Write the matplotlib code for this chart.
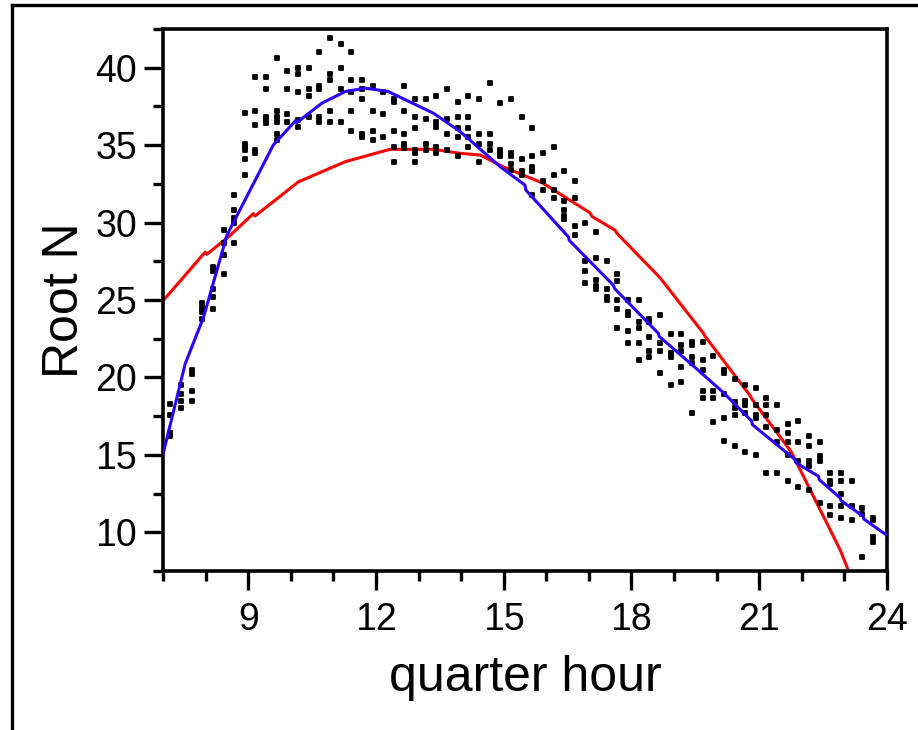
import matplotlib
matplotlib.use("Agg")
import matplotlib.pyplot as plt
from matplotlib.lines import Line2D
from matplotlib.ticker import MultipleLocator

plt.rcParams["font.family"] = ["Liberation Sans", "DejaVu Sans"]

# observed Root N per quarter-hour column
quarter_x = [6.92, 7.17, 7.42, 7.67, 7.92, 8.17, 8.42, 8.67, 8.92, 9.17,
             9.42, 9.67, 9.92, 10.17, 10.42, 10.67, 10.92, 11.17, 11.42, 11.67,
             11.92, 12.17, 12.42, 12.67, 12.92, 13.17, 13.42, 13.67, 13.92, 14.17,
             14.42, 14.67, 14.92, 15.17, 15.42, 15.67, 15.92, 16.17, 16.42, 16.67,
             16.92, 17.17, 17.42, 17.67, 17.92, 18.17, 18.42, 18.67, 18.92, 19.17,
             19.42, 19.67, 19.92, 20.17, 20.42, 20.67, 20.92, 21.17, 21.42, 21.67,
             21.92, 22.17, 22.42, 22.67, 22.92, 23.17, 23.42, 23.67]
root_n = [
    [18.5, 18.2, 17.9, 17.3], [18.3, 17.6, 16.4, 16.2], [19.5, 18.9, 18.5, 18.0],
    [20.5, 20.2, 19.1, 18.5], [24.8, 24.5, 24.2, 23.8], [27.1, 26.9, 25.7, 25.2, 24.4],
    [29.5, 28.7, 27.9, 26.7], [31.8, 30.8, 30.3, 30.0, 28.7], [37.1, 35.1, 34.9, 34.7, 34.1, 33.1],
    [39.4, 37.2, 36.3, 34.7, 34.5], [39.4, 38.6, 36.8, 36.6, 36.4], [40.6, 37.2, 36.8, 36.5, 35.7, 35.3],
    [39.8, 38.6, 37.0, 36.5], [40.0, 39.6, 38.4, 36.6, 36.2], [40.0, 38.6, 38.2, 36.8],
    [41.0, 38.8, 38.6, 36.8, 36.5], [41.9, 39.6, 39.2, 37.2, 36.5], [41.5, 40.0, 38.6, 36.5],
    [41.0, 39.2, 38.4, 37.2, 35.9], [39.2, 38.6, 38.0, 35.7, 35.5], [38.8, 37.2, 35.9, 35.3],
    [38.4, 37.0, 35.5], [38.0, 37.8, 35.9, 34.9, 33.9], [38.8, 37.2, 35.7, 35.1, 34.8],
    [38.0, 36.8, 36.1, 34.7, 34.5, 33.9], [38.0, 36.7, 35.1, 34.7], [38.2, 36.5, 36.2, 34.9, 34.5],
    [38.6, 36.7, 35.7, 34.7], [37.8, 36.8, 36.1, 35.5, 34.3], [38.2, 36.8, 36.1, 35.5, 34.9],
    [38.0, 35.7, 35.1, 33.9], [39.0, 35.7, 35.1, 34.7], [37.7, 34.7, 34.5, 34.3],
    [38.0, 34.5, 34.3, 33.8, 33.4], [36.8, 34.1, 33.3, 33.1], [36.1, 34.3, 33.6, 33.3, 31.8],
    [34.5, 32.7, 32.1], [34.9, 33.1, 32.1, 31.6], [33.3, 31.4, 30.8, 30.4, 30.2],
    [32.7, 31.6, 29.8, 29.2], [30.0, 27.5, 26.9, 26.1], [29.4, 27.7, 26.3, 25.9, 25.7],
    [27.5, 25.7, 25.2, 25.0], [26.7, 26.2, 25.0, 24.4, 23.2], [25.0, 24.2, 24.0, 23.0, 22.2],
    [25.0, 23.6, 23.2, 22.2, 21.1], [23.8, 23.6, 22.6, 21.7, 21.3], [24.0, 22.2, 21.7, 20.3],
    [22.8, 21.6, 21.4, 21.3, 19.5], [22.8, 22.1, 21.7, 20.7, 19.7], [22.3, 22.1, 21.3, 20.9, 17.7],
    [22.3, 21.1, 20.5, 19.1, 18.7], [21.4, 19.1, 18.7, 17.1], [20.5, 20.3, 18.9, 17.4, 15.9],
    [19.9, 18.4, 18.0, 17.6, 15.6], [19.5, 18.5, 18.2, 17.7, 15.2], [19.3, 18.2, 17.6, 17.4, 15.0],
    [18.7, 18.2, 17.6, 16.8, 13.8], [18.2, 16.6, 15.8, 13.8], [17.0, 16.4, 15.8, 15.0, 13.3],
    [17.2, 15.8, 14.6, 12.9], [16.2, 15.6, 14.6, 14.3, 12.7], [15.8, 14.9, 14.6, 11.9],
    [13.8, 13.3, 13.1, 11.7, 11.1], [13.8, 13.3, 12.5, 11.7, 10.9], [13.3, 11.7, 10.8],
    [11.6, 11.2, 8.4], [10.9, 10.8, 9.7, 9.4],
]

# fitted curves (piecewise, with small steps between pieces)
blue_x = [7.0, 7.52, 7.95, 8.5, 9.59, 10.12, 10.14, 10.73, 11.28, 11.75, 12.29,
          13.35, 13.98, 14.92, 15.50, 15.52, 16.52, 16.54, 17.58, 17.60, 18.63,
          18.65, 19.45, 20.16, 20.82, 20.84, 21.84, 21.86, 22.39, 22.41, 22.90,
          22.92, 23.44, 23.46, 24.0]
blue_y = [15.05, 20.88, 23.88, 29.18, 35.01, 36.60, 36.45, 37.71, 38.46, 38.68, 38.46,
          37.06, 35.87, 33.60, 32.42, 32.10, 29.07, 28.85, 25.94, 25.75, 22.85,
          22.65, 20.75, 19.02, 17.19, 16.95, 14.70, 14.50, 13.62, 13.40, 12.22,
          12.05, 11.03, 10.85, 9.80]
red_x = [7.0, 7.99, 8.03, 8.58, 9.12, 9.16, 10.18, 11.28, 12.33, 13.35, 13.98,
         14.45, 14.99, 15.93, 17.03, 17.07, 17.62, 17.66, 18.67, 19.69, 19.73,
         20.79, 20.83, 21.75, 22.90, 23.20]
red_y = [24.95, 28.09, 27.95, 29.18, 30.58, 30.42, 32.63, 33.93, 34.73, 34.73, 34.47,
         34.36, 33.60, 32.53, 30.62, 30.40, 29.50, 29.30, 26.44, 22.85, 22.65,
         18.81, 18.60, 15.20, 8.87, 6.80]

fig = plt.figure(figsize=(9.18, 7.3), dpi=100)
ax = fig.add_axes([0.1776, 0.2178, 0.7886, 0.7425])

pts_x = [x for x, ys in zip(quarter_x, root_n) for _ in ys]
pts_y = [y for ys in root_n for y in ys]
dots = ax.scatter(pts_x, pts_y, marker="s", s=9, color="black", edgecolors="black",
                  linewidths=1.3, zorder=3)
dots.set_joinstyle("round")
ax.plot(red_x, red_y, color="#FF0000", linewidth=2.2, zorder=2)
ax.plot(blue_x, blue_y, color="#2A00FF", linewidth=2.2, zorder=4)

ax.set_xlim(7, 24)
ax.set_ylim(7.5, 42.5)
ax.xaxis.set_minor_locator(MultipleLocator(1))
ax.yaxis.set_major_locator(MultipleLocator(5))
ax.yaxis.set_minor_locator(MultipleLocator(2.5))
ax.set_xticks([9, 12, 15, 18, 21, 24])

for s in ax.spines.values():
    s.set_linewidth(2.6)
ax.tick_params(which="major", direction="out", length=13.5, width=2.4, labelsize=27)
ax.tick_params(which="minor", direction="out", length=7, width=2.4)
ax.tick_params(axis="x", which="major", pad=9)
ax.tick_params(axis="y", which="major", pad=5)

ax.set_xlabel("quarter hour", fontsize=36)
ax.set_ylabel("Root N", fontsize=36)
ax.xaxis.set_label_coords(0.5, -0.155)
ax.yaxis.set_label_coords(-0.104, 0.5)

# outer frame
fig.add_artist(Line2D([12 / 918, 12 / 918], [0, 1 - 5 / 730], color="black", linewidth=2.4,
                      transform=fig.transFigure))
fig.add_artist(Line2D([12 / 918, 1], [1 - 5 / 730, 1 - 5 / 730], color="black", linewidth=2.4,
                      transform=fig.transFigure))

fig.savefig("out.png", dpi=100)
